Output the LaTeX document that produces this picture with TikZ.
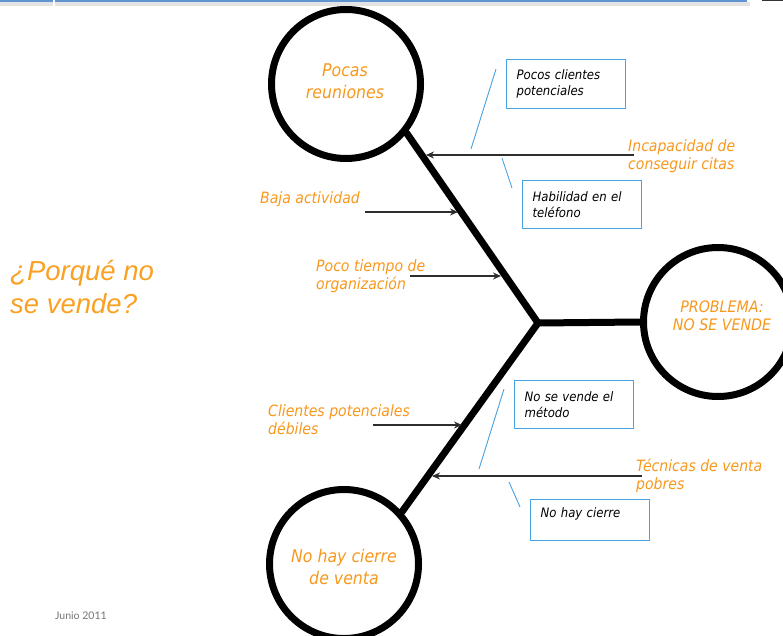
\documentclass[tikz,border=0pt]{standalone}
\usepackage{fontspec}
\usetikzlibrary{arrows.meta}
\newfontfamily\labfont{DejaVu Sans}[FakeStretch=0.9]
\newfontfamily\titlefont{Liberation Sans}
\newfontfamily\datefont{Lato}
\definecolor{causeorange}{RGB}{247,152,29}
\definecolor{titleorange}{RGB}{250,160,35}
\definecolor{boxblue}{RGB}{70,160,225}
\definecolor{arrowgray}{RGB}{45,45,45}
\definecolor{barblue}{RGB}{95,150,210}
\tikzset{
  bone/.style={line width=7pt, black},
  headcircle/.style={circle, draw=black, line width=7pt, minimum size=149pt,
    inner sep=0pt},
  headtext/.style={inner sep=0pt, align=center, text=causeorange,
    font=\labfont\itshape\fontsize{17.5}{22.5}\selectfont},
  causelbl/.style={anchor=west, inner sep=0pt, align=left, text=causeorange,
    font=\labfont\itshape\fontsize{15.6}{18}\selectfont},
  causearrow/.style={draw=arrowgray, line width=1.5pt,
    -{Stealth[length=8pt,width=7pt]}},
  sublink/.style={draw=boxblue, line width=0.9pt},
  subbox/.style={draw=boxblue, line width=1.2pt, rectangle, anchor=north west,
    inner xsep=10pt, inner ysep=0pt, text width=99pt, minimum height=48pt,
    align=left, font=\labfont\itshape\fontsize{13}{16}\selectfont}
}
\begin{document}
\begin{tikzpicture}[x=1pt,y=-1pt]
\useasboundingbox (0,0) rectangle (783,636);

% window bar along the top edge
\fill[gray!22] (0,2) rectangle (750,6);
\fill[barblue] (0,0) rectangle (747,2.5);
\fill[white] (53,0) rectangle (55,6);
\fill[black!80] (762,0) rectangle (783,1.2);

% heads of the diagram
\node[headcircle] (c1) at (346,84) {};
\node[headcircle] (c2) at (344,564) {};
\node[headcircle] (prob) at (718,322) {};
\node[headtext] (c1t) at (345,81) {Pocas\\reuniones};
\node[headtext] (c2t) at (344,567) {No hay cierre\\de venta};
\node[headtext, font=\labfont\itshape\fontsize{15.8}{18}\selectfont] (probt) at (722,316) {PROBLEMA:\\NO SE VENDE};

% spine
\coordinate (j) at (538,323);
\draw[bone] (j) -- (prob.west);
\draw[bone, line cap=round] (j) -- (c1.-39);
\draw[bone, line cap=round] (j) -- (c2.42);

% cause labels
\node[causelbl] (l1) at (628,156) {Incapacidad de\\conseguir citas};
\node[causelbl] (l2) at (260,199) {Baja actividad};
\node[causelbl] (l3) at (316,276) {Poco tiempo de\\organización};
\node[causelbl] (l4) at (268,420) {Clientes potenciales\\débiles};
\node[causelbl] (l5) at (636,476) {Técnicas de venta\\pobres};

% cause arrows onto the bones
\coordinate (a1s) at (634,155); \coordinate (a1e) at (426,155);
\coordinate (a2s) at (365,212); \coordinate (a2e) at (458,212);
\coordinate (a3s) at (410,276); \coordinate (a3e) at (501,276);
\coordinate (a4s) at (373,425); \coordinate (a4e) at (462,425);
\coordinate (a5s) at (642,476); \coordinate (a5e) at (432,476);
\draw[causearrow] (a1s) -- (a1e);
\draw[causearrow] (a2s) -- (a2e);
\draw[causearrow] (a3s) -- (a3e);
\draw[causearrow] (a4s) -- (a4e);
\draw[causearrow] (a5s) -- (a5e);

% sub-causes
\node[subbox, minimum width=118pt, minimum height=49pt] (b1) at (506,59) {Pocos clientes\\potenciales};
\node[subbox] (b2) at (522,180) {Habilidad en el\\teléfono};
\node[subbox] (b3) at (514,380) {No se vende el\\método};
\node[subbox, minimum height=41pt] (b4) at (530,499) {No hay cierre\\\mbox{}};

\coordinate (s1a) at (496,69);  \coordinate (s1b) at (471,149);
\coordinate (s2a) at (502,158); \coordinate (s2b) at (512,188);
\coordinate (s3a) at (504,389); \coordinate (s3b) at (479,469);
\coordinate (s4a) at (509,482); \coordinate (s4b) at (520,507);
\draw[sublink] (s1a) -- (s1b);
\draw[sublink] (s2a) -- (s2b);
\draw[sublink] (s3a) -- (s3b);
\draw[sublink] (s4a) -- (s4b);

% question and date
\node[anchor=west, inner sep=0pt, align=left, text=titleorange,
  font=\titlefont\itshape\fontsize{27.5}{33}\selectfont] (q) at (10,287) {¿Porqué no\\se vende?};
\node[anchor=west, inner sep=0pt, text=black!55,
  font=\datefont\fontsize{10.5}{12}\selectfont] (date) at (55,616) {Junio 2011};
\end{tikzpicture}
\end{document}
